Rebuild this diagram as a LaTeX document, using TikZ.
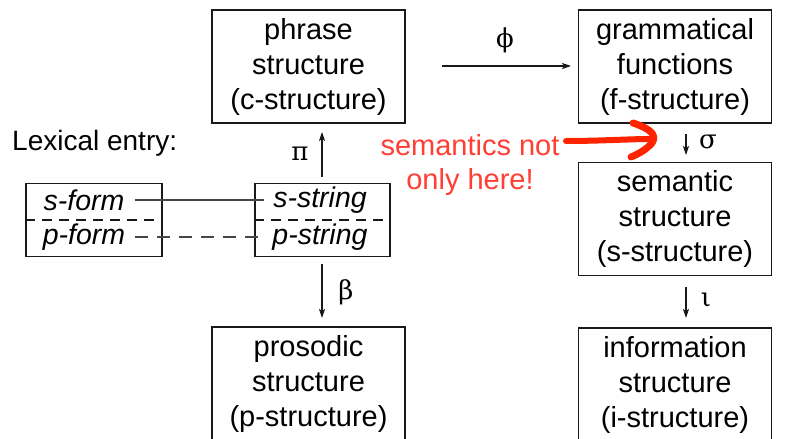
\documentclass[tikz,border=0pt]{standalone}
\usepackage{fontspec}
\setmainfont{Liberation Sans}
\newfontfamily\greekfont{DejaVu Serif}
\usetikzlibrary{arrows.meta}
\definecolor{boxline}{RGB}{25,25,25}
\definecolor{notered}{RGB}{255,62,52}
\definecolor{markred}{RGB}{255,35,0}
\definecolor{linkgray}{RGB}{70,70,70}
\begin{document}
\begin{tikzpicture}[x=1pt,y=-1pt,
  level/.style={draw=boxline, line width=1.3pt, minimum width=193pt, minimum height=113pt,
    align=center, inner sep=0pt, font=\fontsize{29}{35}\selectfont},
  lexbox/.style={draw=boxline, line width=1.2pt, minimum width=136pt, minimum height=73pt, inner sep=0pt},
  lexfield/.style={font=\fontsize{28.5}{30}\selectfont\itshape, inner sep=1pt},
  map/.style={draw=boxline, line width=1.1pt, -{Stealth[length=9pt,width=6pt,inset=2pt]}},
  greeklabel/.style={font=\greekfont\fontsize{26}{28}\selectfont, inner sep=0pt},
  divider/.style={draw=boxline, line width=1.1pt, dash pattern=on 10pt off 7pt},
  link/.style={draw=linkgray, line width=1.1pt, shorten <=9pt, shorten >=8pt},
  note/.style={text=notered, align=center, font=\fontsize{29}{34}\selectfont}
]
\useasboundingbox (0,0) rectangle (793,439);
\clip (0,0) rectangle (793,439);

% levels of representation
\node[level] (cstr) at (308.5,66.5) {phrase\\structure\\(c-structure)};
\node[level] (fstr) at (675,66.5) {grammatical\\functions\\(f-structure)};
\node[level] (sstr) at (675,219) {semantic\\structure\\(s-structure)};
\node[level] (pstr) at (308.5,383.5) {prosodic\\structure\\(p-structure)};
\node[level] (istr) at (675,384.5) {information\\structure\\(i-structure)};

% lexical entry
\node[anchor=west, font=\fontsize{28}{30}\selectfont, inner sep=0pt] (lexlabel) at (12,143) {Lexical entry:};
\node[lexbox] (lexform) at (94,220) {};
\node[lexbox, minimum width=135pt] (lexstring) at (322.5,220) {};
\draw[divider] (lexform.west) -- (lexform.east);
\draw[divider] (lexstring.west) -- (lexstring.east);
\node[lexfield] (sform) at (84,200) {s-form};
\node[lexfield] (pform) at (84,237) {p-form};
\node[lexfield] (sstring) at (320,200) {s-string};
\node[lexfield] (pstring) at (320,237) {p-string};
\draw[link] (sform.east) -- (sstring.west);
\draw[link, dash pattern=on 13pt off 9pt] (pform.east) -- (pstring.west);

% projections
\coordinate (phiS) at (442,66);
\coordinate (phiE) at (571,66);
\draw[map] (phiS) -- (phiE);
\node[greeklabel] (phi) at (505,40) {ϕ};

\coordinate (piS) at (322,177);
\coordinate (piE) at (322,132);
\draw[map] (piS) -- (piE);
\node[greeklabel] (pi) at (300,154) {π};

\coordinate (betaS) at (322,264);
\coordinate (betaE) at (322,318);
\draw[map] (betaS) -- (betaE);
\node[greeklabel] (beta) at (346,292) {β};

\coordinate (sigmaS) at (686,134);
\coordinate (sigmaE) at (686,155);
\draw[map] (sigmaS) -- (sigmaE);
\node[greeklabel] (sigma) at (708,142) {σ};

\coordinate (iotaS) at (686,287);
\coordinate (iotaE) at (686,318);
\draw[map] (iotaS) -- (iotaE);
\node[greeklabel] (iota) at (706,300) {ι};

% annotation
\node[note] (semnote) at (470,165) {semantics not\\only here!};
\coordinate (markS) at (566,141);
\coordinate (markE) at (650,139);
\draw[markred, line width=6pt, line cap=round, line join=round]
  (markS) .. controls (600,141) and (630,139) .. (markE);
\draw[markred, line width=7pt, line cap=round, line join=round]
  (633,123) .. controls (648,128) and (658,134) .. (652,143)
  .. controls (646,150) and (638,154) .. (631,157);
\end{tikzpicture}
\end{document}
